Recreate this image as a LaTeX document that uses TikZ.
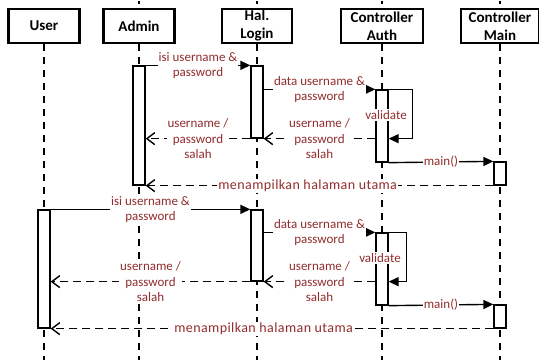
\documentclass[tikz,border=0pt]{standalone}
\usepackage{fontspec}
\setmainfont{Carlito}
\usepackage{xcolor}
\definecolor{msgred}{RGB}{145,45,45}
\usetikzlibrary{arrows.meta}

\begin{document}
\begin{tikzpicture}[x=1pt, y=-1pt,
  actor/.style={draw, line width=2.6pt, fill=white, minimum height=34pt, inner sep=0pt, align=center, font=\fontsize{15}{18}\selectfont\bfseries},
  life/.style={line width=1.3pt, dash pattern=on 7pt off 6pt},
  act/.style={draw, line width=1.3pt, fill=white, minimum width=12pt, inner sep=0pt},
  lbl/.style={fill=white, inner sep=1pt, align=center, text=msgred, font=\fontsize{13}{15.5}\selectfont},
  wide/.style={font=\fontsize{14}{15.5}\selectfont\addfontfeatures{LetterSpace=3}},
  call/.style={line width=1.4pt, -{Triangle[length=10pt,width=9pt]}},
  reply/.style={line width=1.4pt, dash pattern=on 8pt off 5pt, -{Straight Barb[length=8pt,width=12pt]}}]
\useasboundingbox (0,0) rectangle (539,360);

% Lifeline heads
\node[actor, minimum width=71pt] (user) at (44,26) {User};
\node[actor, minimum width=71pt] (admin) at (139,26) {Admin};
\node[actor, minimum width=70pt] (login) at (257,26) {Hal.\\Login};
\node[actor, minimum width=82pt] (auth) at (382,26) {Controller\\Auth};
\node[actor, minimum width=78pt] (main) at (500,26) {Controller\\Main};

% Lifelines
\coordinate (userEnd) at (44,360);
\coordinate (adminEnd) at (139,360);
\coordinate (loginEnd) at (257,360);
\coordinate (authEnd) at (382,360);
\coordinate (mainEnd) at (500,360);
\draw[life] (user.south) -- (userEnd);
\draw[life] (admin.south) -- (adminEnd);
\draw[life] (login.south) -- (loginEnd);
\draw[life] (auth.south) -- (authEnd);
\draw[life] (main.south) -- (mainEnd);
\draw[line width=1.3pt] ([yshift=4pt]admin.north) -- ([yshift=7pt]admin.north);
\draw[line width=1.3pt] ([yshift=4pt]login.north) -- ([yshift=7pt]login.north);
\draw[line width=1.3pt] ([yshift=4pt]auth.north) -- ([yshift=7pt]auth.north);
\draw[line width=1.3pt] ([yshift=4pt]main.north) -- ([yshift=7pt]main.north);

% Activations
\node[act, minimum height=119pt] (actAd) at (139,125.5) {};
\node[act, minimum height=72pt] (actL1) at (257,102) {};
\node[act, minimum height=72pt] (actAu1) at (382,126) {};
\node[act, minimum height=23pt] (actM1) at (500,173.5) {};
\node[act, minimum height=118pt] (actU) at (44,269) {};
\node[act, minimum height=71pt] (actL2) at (257,245.5) {};
\node[act, minimum height=72pt] (actAu2) at (382,269) {};
\node[act, minimum height=23pt] (actM2) at (500,316.5) {};

% Admin login
\draw[call] (actAd.north east) -- node[lbl] (m1) {isi username \&\\password} (actL1.north west);
\draw[call] (actL1.east |- actAu1.north) -- node[lbl] (m2) {data username \&\\password} (actAu1.north west);
\draw[call] (actAu1.north east) -- ++(24,0) |- (actAu1.east |- actL1.south);
\draw[reply] (actAu1.west |- actL1.south) -- node[lbl] (r1) {username /\\password\\salah} (actL1.south east);
\draw[reply] (actL1.south west) -- node[lbl] (r2) {username /\\password\\salah} (actAd.east |- actL1.south);
\draw[call] (actAu1.south east) -- node[lbl] (c1) {main()} (actM1.north west);
\draw[reply] (actM1.south west) -- node[lbl, wide, pos=0.534] (r3) {menampilkan halaman utama} (actAd.south east);
\node[lbl] (v1) at (386,115) {validate};

% User login
\draw[call] (actU.north east) -- node[lbl] (m3) {isi username \&\\password} (actL2.north west);
\draw[call] (actL2.east |- actAu2.north) -- node[lbl] (m4) {data username \&\\password} (actAu2.north west);
\draw[call] (actAu2.north east) -- ++(18,0) |- (actAu2.east |- actL2.south);
\draw[reply] (actAu2.west |- actL2.south) -- node[lbl] (r4) {username /\\password\\salah} (actL2.south east);
\draw[reply] (actL2.south west) -- node[lbl] (r5) {username /\\password\\salah} (actU.east |- actL2.south);
\draw[call] (actAu2.south east) -- node[lbl] (c2) {main()} (actM2.north west);
\draw[reply] (actM2.south west) -- node[lbl, wide, pos=0.519] (r6) {menampilkan halaman utama} (actU.south east);
\node[lbl] (v2) at (380,258) {validate};
\end{tikzpicture}
\end{document}
